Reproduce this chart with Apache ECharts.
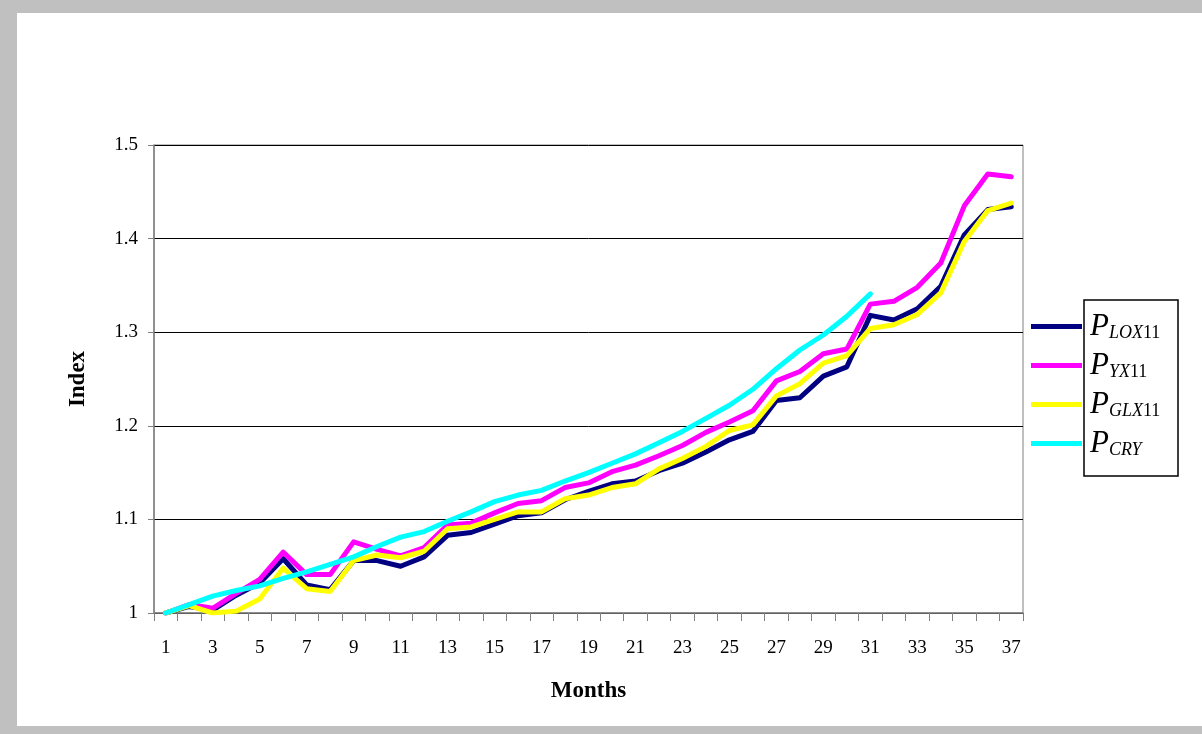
<!DOCTYPE html>
<html>
<head>
<meta charset="utf-8">
<script src="https://cdn.jsdelivr.net/npm/echarts@6/dist/echarts.min.js"></script>
<style>
  html, body { margin: 0; padding: 0; background: #c0c0c0; }
  #canvas { width: 1202px; height: 734px; }
</style>
</head>
<body>
<div id="canvas"></div>
<script>
const months = [];
for (let m = 1; m <= 37; m++) months.push(String(m));

const p_lox11 = [1.000, 1.007, 1.003, 1.019, 1.032, 1.058, 1.030, 1.025, 1.056, 1.056,
  1.050, 1.060, 1.083, 1.086, 1.095, 1.104, 1.107, 1.121, 1.130, 1.138,
  1.141, 1.152, 1.160, 1.172, 1.185, 1.194, 1.227, 1.230, 1.253, 1.263,
  1.318, 1.313, 1.325, 1.349, 1.404, 1.431, 1.434];
const p_yx11 = [1.000, 1.009, 1.005, 1.021, 1.036, 1.065, 1.041, 1.041, 1.076, 1.068,
  1.061, 1.070, 1.094, 1.096, 1.107, 1.117, 1.120, 1.134, 1.139, 1.151,
  1.158, 1.168, 1.179, 1.193, 1.204, 1.216, 1.248, 1.258, 1.277, 1.282,
  1.330, 1.333, 1.348, 1.374, 1.435, 1.469, 1.466];
const p_glx11 = [1.000, 1.008, 1.000, 1.002, 1.015, 1.048, 1.026, 1.023, 1.056, 1.062,
  1.059, 1.066, 1.090, 1.092, 1.100, 1.108, 1.108, 1.122, 1.126, 1.134,
  1.138, 1.154, 1.165, 1.178, 1.195, 1.201, 1.232, 1.245, 1.267, 1.275,
  1.304, 1.308, 1.319, 1.342, 1.397, 1.430, 1.438];
const p_cry = [1.000, 1.009, 1.018, 1.024, 1.029, 1.037, 1.044, 1.052, 1.060, 1.071,
  1.081, 1.087, 1.098, 1.108, 1.119, 1.126, 1.131, 1.141, 1.150, 1.160,
  1.170, 1.182, 1.194, 1.208, 1.222, 1.239, 1.261, 1.281, 1.297, 1.317,
  1.341];

const seriesDefs = [
  { name: 'lox', data: p_lox11, color: '#000080', sub: 'LOX', num: '11' },
  { name: 'yx', data: p_yx11, color: '#ff00ff', sub: 'YX', num: '11' },
  { name: 'glx', data: p_glx11, color: '#ffff00', sub: 'GLX', num: '11' },
  { name: 'cry', data: p_cry, color: '#00ffff', sub: 'CRY', num: '' }
];
const subs = {};
seriesDefs.forEach(s => subs[s.name] = s);

const myChart = echarts.init(document.getElementById('canvas'));
const font = '"Liberation Serif", "Times New Roman", serif';

const option = {
  backgroundColor: '#c0c0c0',
  animation: false,
  textStyle: { fontFamily: font },
  graphic: [
    { type: 'rect', z: -10, shape: { x: 17, y: 13, width: 1185, height: 713 }, style: { fill: '#ffffff' } },
    { type: 'rect', z: 10, shape: { x: 1084, y: 300, width: 94, height: 176 },
      style: { fill: 'none', stroke: '#000000', lineWidth: 1.5 } }
  ],
  grid: { left: 154, right: 179, top: 145, bottom: 121, show: true, borderColor: '#808080', borderWidth: 1, backgroundColor: 'transparent' },
  legend: {
    orient: 'vertical',
    left: 1031,
    top: 311,
    padding: 0,
    itemWidth: 51,
    itemHeight: 5,
    itemGap: 8,
    icon: 'rect',
    data: seriesDefs.map(s => s.name),
    formatter: name => {
      const s = subs[name];
      return '{p|P}{s|' + s.sub + '}' + (s.num ? '{n|' + s.num + '}' : '');
    },
    textStyle: {
      padding: [0, 0, 0, 3],
      rich: {
        p: { fontFamily: font, fontStyle: 'italic', fontSize: 31, color: '#000', height: 31 },
        s: { fontFamily: font, fontStyle: 'italic', fontSize: 18, color: '#000', verticalAlign: 'bottom', padding: [12, 0, 0, 0] },
        n: { fontFamily: font, fontSize: 18, color: '#000', verticalAlign: 'bottom', padding: [12, 0, 0, 0] }
      }
    }
  },
  xAxis: {
    type: 'category',
    data: months,
    boundaryGap: true,
    name: 'Months',
    nameLocation: 'middle',
    nameGap: 67,
    nameTextStyle: { fontFamily: font, fontWeight: 'bold', fontSize: 23, color: '#000' },
    axisLine: { lineStyle: { color: '#808080', width: 1.5 } },
    axisTick: { show: true, length: 8, interval: 0, lineStyle: { color: '#808080' } },
    axisLabel: { interval: 1, margin: 26, fontFamily: font, fontSize: 19, color: '#000' },
    splitLine: { show: false }
  },
  yAxis: {
    type: 'value',
    min: 1,
    max: 1.5,
    interval: 0.1,
    name: 'Index',
    nameLocation: 'middle',
    nameGap: 64,
    nameRotate: 90,
    nameTextStyle: { fontFamily: font, fontWeight: 'bold', fontSize: 23, color: '#000' },
    axisLine: { show: true, lineStyle: { color: '#808080', width: 1.5 } },
    axisTick: { show: true, length: 6, lineStyle: { color: '#808080' } },
    axisLabel: { margin: 16, fontFamily: font, fontSize: 19, color: '#000', formatter: v => String(Math.round(v * 10) / 10) },
    splitLine: { show: true, lineStyle: { color: '#000000', width: 1 } }
  },
  series: seriesDefs.map(s => ({
    name: s.name,
    type: 'line',
    data: s.data,
    symbol: 'none',
    color: s.color,
    lineStyle: { color: s.color, width: 5, join: 'round', cap: 'round' }
  }))
};

myChart.setOption(option);
</script>
</body>
</html>
